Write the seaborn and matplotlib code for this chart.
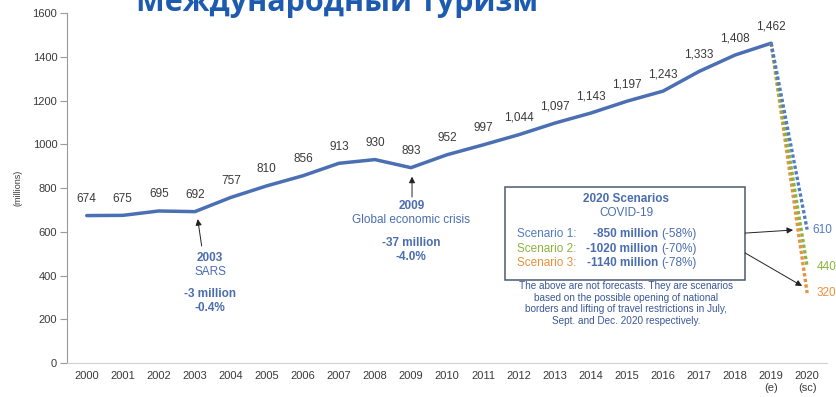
import matplotlib
matplotlib.use("Agg")
import matplotlib.pyplot as plt
import matplotlib.patches as mpatches
import seaborn as sns

# International tourist arrivals (millions), 2000-2019
years = [2000, 2001, 2002, 2003, 2004, 2005, 2006, 2007, 2008, 2009,
         2010, 2011, 2012, 2013, 2014, 2015, 2016, 2017, 2018, 2019]
arrivals = [674, 675, 695, 692, 757, 810, 856, 913, 930, 893,
            952, 997, 1044, 1097, 1143, 1197, 1243, 1333, 1408, 1462]
value_labels = ["674", "675", "695", "692", "757", "810", "856", "913", "930", "893",
                "952", "997", "1,044", "1,097", "1,143", "1,197", "1,243", "1,333",
                "1,408", "1,462"]

# 2020 COVID-19 scenarios
scenario_year = 2020
scenario_names = ["Scenario 1:", "Scenario 2:", "Scenario 3:"]
scenario_values = [610, 440, 320]
scenario_drops = ["-850 million", "-1020 million", "-1140 million"]
scenario_pcts = ["(-58%)", "(-70%)", "(-78%)"]
scenario_colors = ["#4f7cc2", "#8cb33e", "#e9913e"]

tick_years = years + [scenario_year]
tick_labels = [str(y) for y in years[:-1]] + ["2019\n(e)", "2020\n(sc)"]
y_ticks = [0, 200, 400, 600, 800, 1000, 1200, 1400, 1600]

line_blue = "#4a6fb3"
text_blue = "#4a6db0"
note_blue = "#3a5898"
label_grey = "#3a3a3a"

sns.set_theme(style="white")
plt.rcParams["font.family"] = ["Liberation Sans", "DejaVu Sans"]

fig = plt.figure(figsize=(8.37, 3.97), dpi=100)
ax = fig.add_axes([0.080, 0.0856, 0.908, 0.8816])

# main series
sns.lineplot(x=years, y=arrivals, color=line_blue, linewidth=2.5, ax=ax)

# scenario drops (draw orange first so blue sits on top)
for val, col in reversed(list(zip(scenario_values, scenario_colors))):
    sns.lineplot(x=[years[-1], scenario_year], y=[arrivals[-1], val], color=col,
                 linewidth=2.4, linestyle=(0, (1, 0.7)), ax=ax)

for x, y, lab in zip(years, arrivals, value_labels):
    ax.annotate(lab, (x, y), xytext=(0, 12), textcoords="offset points",
                ha="center", va="center", fontsize=8.5, color=label_grey)

scen_offsets = [(4, 0), (7, 0), (7, 0)]
for val, col, off in zip(scenario_values, scenario_colors, scen_offsets):
    ax.annotate(str(val), (scenario_year, val), xytext=off, textcoords="offset points",
                ha="left", va="center", fontsize=8.5, color=col)

arrow = dict(arrowstyle="-|>", color="#222222", lw=0.7, mutation_scale=9,
             shrinkA=0, shrinkB=0)

# 2003 SARS
ax.annotate("", xy=(2003.08, 658), xytext=(2003.19, 535), arrowprops=arrow)
ax.text(2003.42, 480, "2003", ha="center", va="center", fontsize=8.5,
        fontweight="bold", color=text_blue)
ax.text(2003.42, 416, "SARS", ha="center", va="center", fontsize=8.5, color=text_blue)
ax.text(2003.42, 315, "-3 million", ha="center", va="center", fontsize=8.5,
        fontweight="bold", color=text_blue)
ax.text(2003.42, 251, "-0.4%", ha="center", va="center", fontsize=8.5,
        fontweight="bold", color=text_blue)

# 2009 crisis
ax.annotate("", xy=(2009.03, 852), xytext=(2009.03, 759), arrowprops=arrow)
ax.text(2009.03, 718, "2009", ha="center", va="center", fontsize=8.5,
        fontweight="bold", color=text_blue)
ax.text(2009.0, 654, "Global economic crisis", ha="center", va="center",
        fontsize=8.5, color=text_blue)
ax.text(2009.0, 549, "-37 million", ha="center", va="center", fontsize=8.5,
        fontweight="bold", color=text_blue)
ax.text(2009.0, 485, "-4.0%", ha="center", va="center", fontsize=8.5,
        fontweight="bold", color=text_blue)

# scenarios box
box = mpatches.Rectangle((0.576, 0.237), 0.316, 0.266, transform=ax.transAxes,
                         fill=False, edgecolor="#4a5a72", linewidth=1.1)
ax.add_patch(box)
ax.text(2014.97, 750, "2020 Scenarios", ha="center", va="center", fontsize=8.5,
        fontweight="bold", color=text_blue)
ax.text(2014.97, 686, "COVID-19", ha="center", va="center", fontsize=8.5,
        color=text_blue)
row_y = [590, 521, 457]
for ry, name, drop, pct, col in zip(row_y, scenario_names, scenario_drops,
                                    scenario_pcts, scenario_colors):
    ax.text(2011.94, ry, name, ha="left", va="center", fontsize=8.5, color=col)
    ax.text(2015.86, ry, drop, ha="right", va="center", fontsize=8.5,
            fontweight="bold", color=text_blue)
    ax.text(2015.94, ry, pct, ha="left", va="center", fontsize=8.5, color=text_blue)

ax.text(2014.97, 374,
        "The above are not forecasts. They are scenarios\n"
        "based on the possible opening of national\n"
        "borders and lifting of travel restrictions in July,\n"
        "Sept. and Dec. 2020 respectively.",
        ha="center", va="top", fontsize=7.2, color=note_blue, linespacing=1.2)

ax.annotate("", xy=(2019.61, 608), xytext=(2018.28, 594), arrowprops=arrow)
ax.annotate("", xy=(2019.86, 352), xytext=(2018.28, 503), arrowprops=arrow)

# axes styling
ax.set_xlim(1999.45, 2020.55)
ax.set_ylim(0, 1600)
ax.set_xticks(tick_years)
ax.set_xticklabels(tick_labels, fontsize=8, color=label_grey)
ax.set_yticks(y_ticks)
ax.set_yticklabels([str(v) for v in y_ticks], fontsize=8, color=label_grey)
ax.tick_params(axis="x", length=0, pad=6)
ax.tick_params(axis="y", length=5, width=0.8, color="#9a9a9a", pad=2, left=True)
ax.set_xlabel("")
ax.set_ylabel("(millions)", fontsize=6.5, color=label_grey)
ax.yaxis.set_label_coords(-0.058, 0.5)
sns.despine(ax=ax)
ax.spines["left"].set_color("#9a9a9a")
ax.spines["left"].set_linewidth(0.8)
ax.spines["bottom"].set_color("#d0d0d0")
ax.spines["bottom"].set_linewidth(0.8)

# title, cut by the top edge as in the source
fig.text(337 / 837, 1 - 11 / 397, "Международный туризм", ha="center",
         va="baseline", fontsize=22, fontweight="bold", color="#1d5bb0",
         family=["Open Sans", "DejaVu Sans"])

fig.savefig("out.png", dpi=100, facecolor="white")
